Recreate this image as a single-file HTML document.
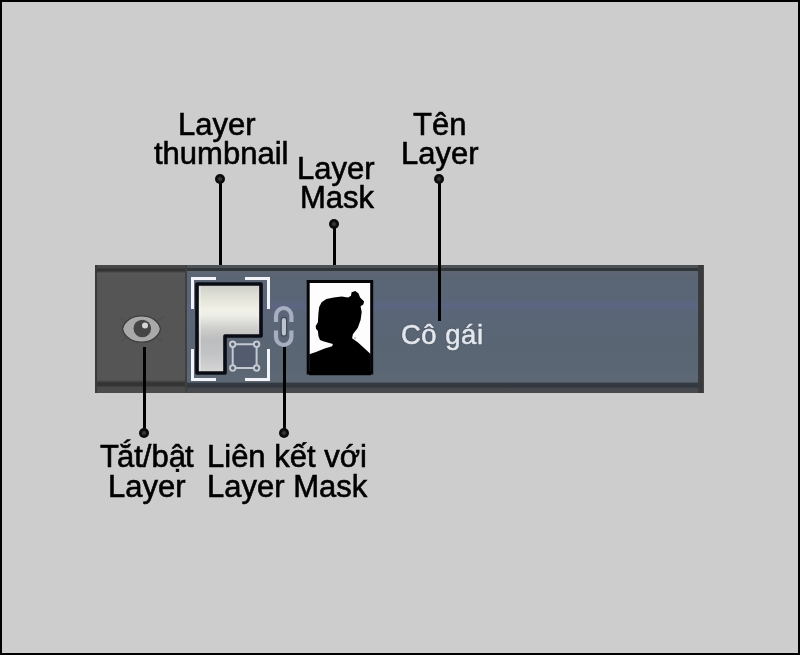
<!DOCTYPE html>
<html><head><meta charset="utf-8">
<style>
html,body{margin:0;padding:0;}
body{width:800px;height:655px;position:relative;overflow:hidden;background:#000;}
#frame{position:absolute;left:2px;top:2px;width:796px;height:651px;background:#cdcdcd;}
.lbl{position:absolute;font-family:"Liberation Sans",sans-serif;font-size:31px;line-height:31px;color:#000;-webkit-text-stroke:0.6px #000;will-change:transform;white-space:nowrap;}
.ln{position:absolute;background:#000;width:3px;}
.dot{position:absolute;width:10px;height:10px;border-radius:50%;background:radial-gradient(circle,#404040 0,#353535 1.2px,#0a0a0a 3px);}
#panel{position:absolute;left:95px;top:265px;width:609px;height:128px;background:#5b6577;overflow:hidden;}
</style></head>
<body>
<div id="frame"></div>

<!-- panel -->
<div id="panel">
  <div style="position:absolute;left:0;top:0;width:609px;height:128px;background:linear-gradient(to bottom,#4b5155 0px,#4b5155 3px,#30363a 3.5px,#30363a 6px,#5f6672 6.5px,#5c6574 9px,#5a6574 12px,#5a6577 34px,#5c6583 40px,#5a6579 46px,#5a6575 58px,#5a6673 105px,#5e6876 112px,#5c6571 117px,#343a42 118.3px,#32373e 122px,#45484c 123px,#484a4e 128px)"></div>
  <!-- left grey area -->
  <div style="position:absolute;left:0;top:0;width:91px;height:128px;background:linear-gradient(to bottom,#4a4a4a 0px,#464646 3px,#333333 4px,#353535 6px,#575757 8px,#555555 12px,#555555 115px,#333333 118px,#353535 121px,#4a4a4a 122px,#4b4b4b 128px);"></div>
  <div style="position:absolute;left:0;top:0;width:2px;height:128px;background:#3a3a3a;"></div>
  <div style="position:absolute;left:90px;top:0;width:2px;height:128px;background:#404040;"></div>
  <!-- right strip -->
  <div style="position:absolute;left:603px;top:0;width:6px;height:128px;background:linear-gradient(to right,#3c3d3f,#37383a 4px,#4a4b4d);"></div>
</div>

<!-- eye icon -->
<svg style="position:absolute;left:115px;top:305px;filter:blur(0.45px)" width="60" height="45" viewBox="0 0 60 45">
  <path d="M4 12 L9 15 M49 12 L44 15 M6 36 L11 33 M47 36 L42 33" stroke="#4d4d4d" stroke-width="1.2"/>
  <path d="M7.5 24 C11 6.5 42 6.5 45.5 24 C42 41.5 11 41.5 7.5 24 Z" fill="#a9a9a9" stroke="#3e3e3e" stroke-width="1.3"/>
  <circle cx="27.3" cy="23.5" r="8.8" fill="#454545"/>
  <circle cx="30" cy="20.6" r="3" fill="#d4d4d4"/>
</svg>

<!-- layer thumbnail -->
<svg style="position:absolute;left:186px;top:270px;filter:blur(0.3px)" width="90" height="120" viewBox="0 0 90 120">
  <defs>
    <linearGradient id="g1" gradientUnits="userSpaceOnUse" x1="0" y1="14" x2="0" y2="106">
      <stop offset="0" stop-color="#cbcdc7"/>
      <stop offset="0.09" stop-color="#d9dad2"/>
      <stop offset="0.19" stop-color="#e7e7dc"/>
      <stop offset="0.28" stop-color="#f1f1e7"/>
      <stop offset="0.34" stop-color="#eeeee8"/>
      <stop offset="0.42" stop-color="#dcdcd8"/>
      <stop offset="0.5" stop-color="#cbcbc9"/>
      <stop offset="0.61" stop-color="#bcbdbf"/>
      <stop offset="0.77" stop-color="#c3c4c6"/>
      <stop offset="0.96" stop-color="#d6d6d6"/>
    </linearGradient>
  </defs>
  <!-- brackets -->
  <g fill="#f2f4fa">
    <rect x="5" y="7" width="25" height="3"/><rect x="5" y="7" width="3" height="32"/>
    <rect x="59" y="7" width="25" height="3"/><rect x="81" y="7" width="3" height="32"/>
    <rect x="5" y="108" width="25" height="3"/><rect x="5" y="79" width="3" height="32"/>
    <rect x="59" y="108" width="25" height="3"/><rect x="81" y="79" width="3" height="32"/>
  </g>
  <!-- L shape -->
  <path d="M11 14 H75 V66 H39 V103 H11 Z" fill="url(#g1)" stroke="#0a0c14" stroke-width="3.6" stroke-linejoin="round"/>
  <path d="M14 16.5 V101" stroke="#f6f6f6" stroke-width="1.2" opacity="0.7"/>
  <!-- transform icon -->
  <rect x="47" y="74" width="24" height="24" fill="#535c6e"/>
  <g stroke="#c4c8d0" stroke-width="2" fill="none">
    <path d="M46.7 74.2 H70.6 V98 H46.7 Z"/>
    <circle cx="46.7" cy="74.2" r="2.7" fill="#535c6e"/>
    <circle cx="70.6" cy="74.2" r="2.7" fill="#535c6e"/>
    <circle cx="46.7" cy="98" r="2.7" fill="#535c6e"/>
    <circle cx="70.6" cy="98" r="2.7" fill="#535c6e"/>
  </g>
</svg>

<!-- chain icon -->
<svg style="position:absolute;left:266px;top:300px;filter:blur(0.35px)" width="40" height="60" viewBox="0 0 40 60">
  <g stroke="#a8aec1" stroke-width="4.2" fill="none" stroke-linecap="butt">
    <path d="M10 22 V16 A7.7 8 0 0 1 25.4 16 V22"/>
    <path d="M10 30.5 V37 A7.7 8 0 0 0 25.4 37 V30.5"/>
  </g>
  <path d="M17.9 20 V33.5" stroke="#414856" stroke-width="6.5" stroke-linecap="round"/>
  <path d="M17.9 20 V33.5" stroke="#bcc3d0" stroke-width="4.2" stroke-linecap="round"/>
</svg>

<!-- mask thumbnail -->
<svg style="position:absolute;left:300px;top:270px;filter:blur(0.3px)" width="80" height="110" viewBox="0 0 80 110">
  <rect x="8.2" y="11.5" width="63.5" height="91.5" fill="#fdfdfd" stroke="#050505" stroke-width="3"/>
  <path d="M15.7 56.0 L17.9 52.3 L18.4 43.5 L19.2 37.1 L21.6 32.2 L26.4 29.0 L33.7 27.4 L41.7 26.6 L48.1 27.4 L51.0 25.8 L51.6 22.3 L55.3 21.0 L58.5 23.4 L60.1 27.4 L64.1 31.4 L63.3 34.6 L60.6 36.2 L61.7 41.9 L60.6 49.9 L57.7 57.9 L52.9 64.3 L52.1 68.3 L57.7 72.3 L64.1 77.9 L70.8 84.3 L70.8 105.2 L9.3 105.2 L9.3 84.3 L16.0 81.9 L24.0 78.7 L32.1 76.3 L32.9 73.9 L24.0 71.5 L20.0 69.9 L18.4 65.9 L17.9 61.1 L16.0 58.7 Z" fill="#000"/>
  <circle cx="55" cy="68" r="0.9" fill="#aaa"/>
</svg>

<!-- Co gai -->
<div id="cogai" style="position:absolute;left:401px;top:319.5px;font-family:'Liberation Sans',sans-serif;font-size:27.5px;line-height:30px;letter-spacing:0.5px;-webkit-text-stroke:0.5px #e4e8ee;text-shadow:0 0 2px #3c4450;color:#e4e8ee;white-space:nowrap;filter:blur(0.4px);">Cô gái</div>

<!-- lines & dots -->
<div class="ln" style="left:219px;top:179px;height:86px;"></div>
<div class="dot" style="left:215px;top:174px;"></div>
<div class="ln" style="left:333px;top:224px;height:41px;"></div>
<div class="dot" style="left:329px;top:219px;"></div>
<div class="ln" style="left:438px;top:179px;height:142px;"></div>
<div class="dot" style="left:434px;top:174px;"></div>
<div class="ln" style="left:143px;top:347px;height:86px;"></div>
<div class="dot" style="left:139px;top:428px;"></div>
<div class="ln" style="left:283px;top:347px;height:86px;"></div>
<div class="dot" style="left:279px;top:428px;"></div>

<!-- labels -->
<div class="lbl" style="left:178px;top:109px;">Layer</div>
<div class="lbl" style="left:154px;top:138px;">thumbnail</div>
<div class="lbl" style="left:297px;top:153px;">Layer</div>
<div class="lbl" style="left:300px;top:182px;">Mask</div>
<div class="lbl" style="left:413px;top:109px;">Tên</div>
<div class="lbl" style="left:401px;top:138px;">Layer</div>
<div class="lbl" style="left:100px;top:441px;"><span style="margin-right:-2px">T</span>ắt/b<span style="margin-right:-1px">ậ</span>t</div>
<div class="lbl" style="left:108px;top:471px;">Layer</div>
<div class="lbl" style="left:207px;top:441px;">Liên kết với</div>
<div class="lbl" style="left:207px;top:471px;">Layer Mask</div>
</body></html>
